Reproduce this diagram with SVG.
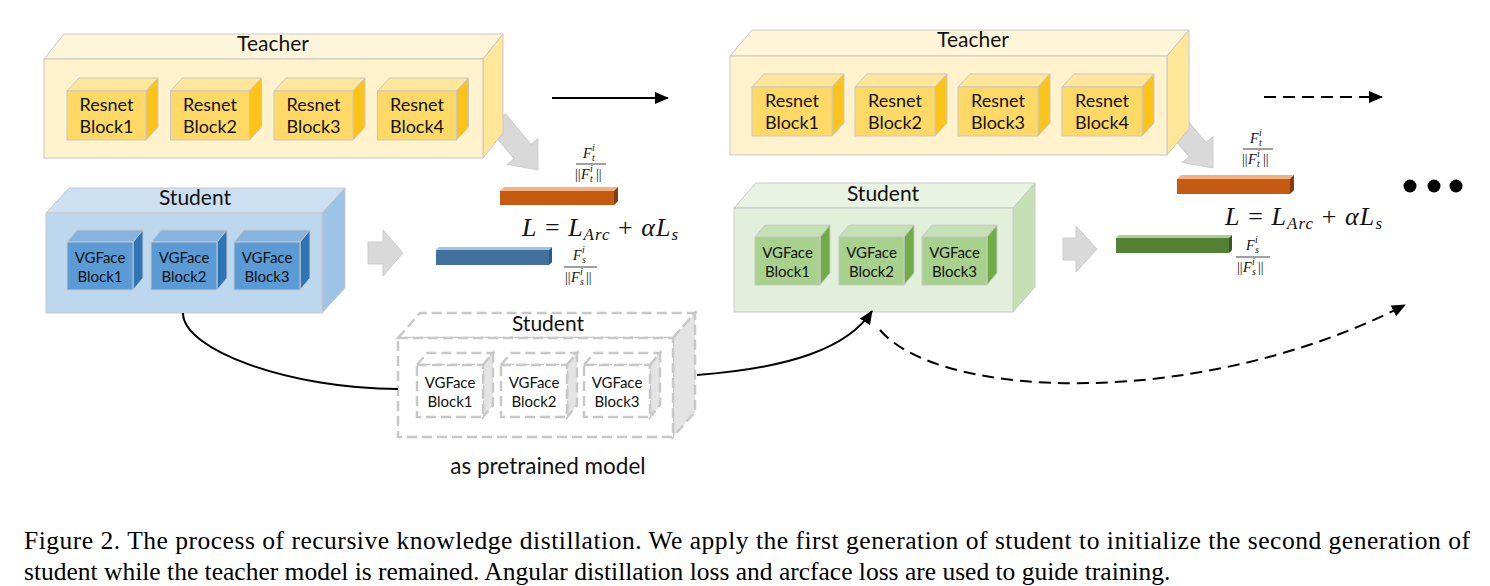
<svg xmlns="http://www.w3.org/2000/svg" width="1490" height="586" viewBox="0 0 1490 586">
<style>
.lbl{font-family:Lato,"Open Sans","Liberation Sans",sans-serif;fill:#111;text-anchor:middle}
.big{font-size:21px}
.rb{font-size:18px}
.vb{font-size:15px}
.b{stroke:#c8c8c8;stroke-width:1}
.tf{fill:#fff2cc}.tt{fill:#fff6da}.ts{fill:#ffe699}
.rf{fill:#ffd966}.rt{fill:#ffe699}.rs{fill:#fcc419}
.sf{fill:#bdd7ee}.st{fill:#cde0f2}.ss{fill:#9dc3e6}
.vf{fill:#5b9bd5}.vt{fill:#86b3e0}.vs{fill:#2e75b6}
.gf{fill:#e2efda}.gt{fill:#e9f3e3}.gs{fill:#c5e0b4}
.hf{fill:#a9d18e}.ht{fill:#c5e0b4}.hs{fill:#70ad47}
.d{fill:#fff;stroke:#c8c8c8;stroke-width:2.5;stroke-dasharray:10 5}
.ds{fill:#e4e4e4;stroke:#c8c8c8;stroke-width:2.5;stroke-dasharray:10 5}
.ga{fill:#d9d9d9;stroke:#cdcdcd;stroke-width:1}
.m{font-family:"Liberation Serif","DejaVu Serif",serif;fill:#111}
.i{font-style:italic}
.c{fill:none;stroke:#000;stroke-width:2}
.dash{stroke-dasharray:12 7}
.cap{font-family:"Liberation Serif","Times New Roman",serif;font-size:25.5px;fill:#000}
</style>
<defs>
<marker id="ah" markerUnits="userSpaceOnUse" markerWidth="14" markerHeight="12" refX="13" refY="6" orient="auto">
<path d="M0,0 L14,6 L0,12 Z" fill="#000"/>
</marker>
</defs>

<!-- gray block arrows -->
<g id="arrow-t1">
<polygon class="ga" transform="translate(538,170) rotate(50)" points="0,0 -24,-20 -24,-11 -64,-11 -64,11 -24,11 -24,20"/>
</g>
<g id="arrow-t2">
<polygon class="ga" transform="translate(1213,168) rotate(50)" points="0,0 -24,-20 -24,-11 -64,-11 -64,11 -24,11 -24,20"/>
</g>
<g id="arrow-s1">
<polygon class="ga" points="368,242 383,242 383,230 403,253 383,276 383,264 368,264"/>
</g>
<g id="arrow-s2">
<polygon class="ga" points="1063,238 1076,238 1076,226 1097,249 1076,272 1076,260 1063,260"/>
</g>

<!-- Teacher 1 -->
<g id="teacher1">
<polygon class="b tt" points="44,59 64,34 503,34 483,59"/>
<polygon class="b ts" points="483,59 503,34 503,133 483,158"/>
<rect class="b tf" x="44" y="59" width="439" height="99"/>
<text class="lbl big" x="273" y="51">Teacher</text>
<g id="t1b1">
<polygon class="b rt" points="67,91 79,78 158,78 146,91"/><polygon class="b rs" points="146,91 158,78 158,127 146,140"/><rect class="b rf" x="67" y="91" width="79" height="49"/>
<text class="lbl rb" x="106.5" y="111">Resnet</text><text class="lbl rb" x="106.5" y="133">Block1</text>
</g>
<g id="t1b2">
<polygon class="b rt" points="170.5,91 182.5,78 261.5,78 249.5,91"/><polygon class="b rs" points="249.5,91 261.5,78 261.5,127 249.5,140"/><rect class="b rf" x="170.5" y="91" width="79" height="49"/>
<text class="lbl rb" x="210" y="111">Resnet</text><text class="lbl rb" x="210" y="133">Block2</text>
</g>
<g id="t1b3">
<polygon class="b rt" points="274,91 286,78 365,78 353,91"/><polygon class="b rs" points="353,91 365,78 365,127 353,140"/><rect class="b rf" x="274" y="91" width="79" height="49"/>
<text class="lbl rb" x="313.5" y="111">Resnet</text><text class="lbl rb" x="313.5" y="133">Block3</text>
</g>
<g id="t1b4">
<polygon class="b rt" points="377.5,91 389.5,78 468.5,78 456.5,91"/><polygon class="b rs" points="456.5,91 468.5,78 468.5,127 456.5,140"/><rect class="b rf" x="377.5" y="91" width="79" height="49"/>
<text class="lbl rb" x="417" y="111">Resnet</text><text class="lbl rb" x="417" y="133">Block4</text>
</g>
</g>

<!-- Teacher 2 -->
<g id="teacher2">
<polygon class="b tt" points="730,56 752,30 1189,30 1167,56"/>
<polygon class="b ts" points="1167,56 1189,30 1189,129 1167,155"/>
<rect class="b tf" x="730" y="56" width="437" height="99"/>
<text class="lbl big" x="973" y="47">Teacher</text>
<g id="t2b1">
<polygon class="b rt" points="752,87 764,74 844,74 832,87"/><polygon class="b rs" points="832,87 844,74 844,123 832,136"/><rect class="b rf" x="752" y="87" width="80" height="49"/>
<text class="lbl rb" x="792" y="107">Resnet</text><text class="lbl rb" x="792" y="129">Block1</text>
</g>
<g id="t2b2">
<polygon class="b rt" points="855,87 867,74 947,74 935,87"/><polygon class="b rs" points="935,87 947,74 947,123 935,136"/><rect class="b rf" x="855" y="87" width="80" height="49"/>
<text class="lbl rb" x="895" y="107">Resnet</text><text class="lbl rb" x="895" y="129">Block2</text>
</g>
<g id="t2b3">
<polygon class="b rt" points="958,87 970,74 1050,74 1038,87"/><polygon class="b rs" points="1038,87 1050,74 1050,123 1038,136"/><rect class="b rf" x="958" y="87" width="80" height="49"/>
<text class="lbl rb" x="998" y="107">Resnet</text><text class="lbl rb" x="998" y="129">Block3</text>
</g>
<g id="t2b4">
<polygon class="b rt" points="1062,87 1074,74 1154,74 1142,87"/><polygon class="b rs" points="1142,87 1154,74 1154,123 1142,136"/><rect class="b rf" x="1062" y="87" width="80" height="49"/>
<text class="lbl rb" x="1102" y="107">Resnet</text><text class="lbl rb" x="1102" y="129">Block4</text>
</g>
</g>

<!-- Student 1 (blue) -->
<g id="student1">
<polygon class="b st" points="46,213 69,188 345,188 322,213"/>
<polygon class="b ss" points="322,213 345,188 345,288 322,313"/>
<rect class="b sf" x="46" y="213" width="276" height="100"/>
<text class="lbl big" x="195" y="205">Student</text>
<g id="s1b1">
<polygon class="b vt" points="67,242 77,230 143,230 133,242"/><polygon class="b vs" points="133,242 143,230 143,278 133,290"/><rect class="b vf" x="67" y="242" width="66" height="48"/>
<text class="lbl vb" x="100" y="263">VGFace</text><text class="lbl vb" x="100" y="282">Block1</text>
</g>
<g id="s1b2">
<polygon class="b vt" points="151,242 161,230 227,230 217,242"/><polygon class="b vs" points="217,242 227,230 227,278 217,290"/><rect class="b vf" x="151" y="242" width="66" height="48"/>
<text class="lbl vb" x="184" y="263">VGFace</text><text class="lbl vb" x="184" y="282">Block2</text>
</g>
<g id="s1b3">
<polygon class="b vt" points="234,242 244,230 310,230 300,242"/><polygon class="b vs" points="300,242 310,230 310,278 300,290"/><rect class="b vf" x="234" y="242" width="66" height="48"/>
<text class="lbl vb" x="267" y="263">VGFace</text><text class="lbl vb" x="267" y="282">Block3</text>
</g>
</g>

<!-- Student 2 (green) -->
<g id="student2">
<polygon class="b gt" points="734,208 756,183 1035,183 1013,208"/>
<polygon class="b gs" points="1013,208 1035,183 1035,287 1013,312"/>
<rect class="b gf" x="734" y="208" width="279" height="104"/>
<text class="lbl big" x="883" y="201">Student</text>
<g id="s2b1">
<polygon class="b ht" points="755,237 765,225 830,225 820,237"/><polygon class="b hs" points="820,237 830,225 830,273 820,285"/><rect class="b hf" x="755" y="237" width="65" height="48"/>
<text class="lbl vb" x="787.5" y="258">VGFace</text><text class="lbl vb" x="787.5" y="277">Block1</text>
</g>
<g id="s2b2">
<polygon class="b ht" points="839,237 849,225 914,225 904,237"/><polygon class="b hs" points="904,237 914,225 914,273 904,285"/><rect class="b hf" x="839" y="237" width="65" height="48"/>
<text class="lbl vb" x="871.5" y="258">VGFace</text><text class="lbl vb" x="871.5" y="277">Block2</text>
</g>
<g id="s2b3">
<polygon class="b ht" points="922,237 932,225 997,225 987,237"/><polygon class="b hs" points="987,237 997,225 997,273 987,285"/><rect class="b hf" x="922" y="237" width="65" height="48"/>
<text class="lbl vb" x="954.5" y="258">VGFace</text><text class="lbl vb" x="954.5" y="277">Block3</text>
</g>
</g>

<!-- Pretrained student (dashed) -->
<g id="student-pretrained">
<polygon class="d" points="398,338 420,313 695,313 673,338"/>
<polygon class="ds" points="673,338 695,313 695,412 673,437"/>
<rect class="d" x="398" y="338" width="275" height="99"/>
<text class="lbl big" x="548" y="331">Student</text>
<g id="pb1">
<polygon class="d" points="417,365 427,353 493,353 483,365"/><polygon class="ds" points="483,365 493,353 493,405 483,417"/><rect class="d" x="417" y="365" width="66" height="52"/>
<text class="lbl vb" x="450" y="388">VGFace</text><text class="lbl vb" x="450" y="407">Block1</text>
</g>
<g id="pb2">
<polygon class="d" points="501,365 511,353 577,353 567,365"/><polygon class="ds" points="567,365 577,353 577,405 567,417"/><rect class="d" x="501" y="365" width="66" height="52"/>
<text class="lbl vb" x="534" y="388">VGFace</text><text class="lbl vb" x="534" y="407">Block2</text>
</g>
<g id="pb3">
<polygon class="d" points="584,365 594,353 660,353 650,365"/><polygon class="ds" points="650,365 660,353 660,405 650,417"/><rect class="d" x="584" y="365" width="66" height="52"/>
<text class="lbl vb" x="617" y="388">VGFace</text><text class="lbl vb" x="617" y="407">Block3</text>
</g>
<text class="lbl" style="font-size:22.5px" x="548" y="474">as pretrained model</text>
</g>

<!-- feature bars -->
<g id="bar-t1">
<polygon fill="#f4b183" points="500,191 504,187 618,187 614,191"/>
<polygon fill="#843c0c" points="614,191 618,187 618,201 614,205"/>
<rect x="500" y="191" width="114" height="14" fill="#c55a11"/>
</g>
<g id="bar-s1">
<polygon fill="#9dc3e6" points="436,250 439,247 552,247 549,250"/>
<polygon fill="#2f5597" points="549,250 552,247 552,262 549,265"/>
<rect x="436" y="250" width="113" height="15" fill="#41719c"/>
</g>
<g id="bar-t2">
<polygon fill="#f4b183" points="1177,179 1181,175 1294,175 1290,179"/>
<polygon fill="#843c0c" points="1290,179 1294,175 1294,190 1290,194"/>
<rect x="1177" y="179" width="113" height="15" fill="#c55a11"/>
</g>
<g id="bar-s2">
<polygon fill="#a9d18e" points="1116,238 1119,235 1232,235 1229,238"/>
<polygon fill="#385723" points="1229,238 1232,235 1232,250 1229,253"/>
<rect x="1116" y="238" width="113" height="15" fill="#548235"/>
</g>

<!-- math labels -->
<g id="math1">
<text class="m" font-size="14"><tspan class="i" x="583" y="158">F</tspan><tspan font-size="10" class="i" x="592" y="151">i</tspan><tspan font-size="10" class="i" x="592" y="161">t</tspan></text>
<line x1="576" y1="164" x2="606" y2="164" stroke="#111" stroke-width="0.8"/>
<text class="m" font-size="14"><tspan x="575" y="179">||</tspan><tspan class="i" x="581" y="179">F</tspan><tspan font-size="10" class="i" x="590" y="172">i</tspan><tspan font-size="10" class="i" x="590" y="182">t</tspan><tspan x="596" y="179">||</tspan></text>
<text class="m" font-size="26" x="522" y="236" textLength="156" lengthAdjust="spacing"><tspan class="i">L</tspan> = <tspan class="i">L</tspan><tspan class="i" font-size="17" dy="4">Arc</tspan><tspan dy="-4"> + </tspan><tspan class="i">αL</tspan><tspan class="i" font-size="17" dy="4">s</tspan></text>
<text class="m" font-size="14"><tspan class="i" x="573" y="260">F</tspan><tspan font-size="10" class="i" x="582" y="253">i</tspan><tspan font-size="10" class="i" x="582" y="263">s</tspan></text>
<line x1="564" y1="267" x2="597" y2="267" stroke="#111" stroke-width="0.8"/>
<text class="m" font-size="14"><tspan x="565" y="282">||</tspan><tspan class="i" x="571" y="282">F</tspan><tspan font-size="10" class="i" x="580" y="275">i</tspan><tspan font-size="10" class="i" x="580" y="285">s</tspan><tspan x="586" y="282">||</tspan></text>
</g>
<g id="math2">
<text class="m" font-size="14"><tspan class="i" x="1250" y="143">F</tspan><tspan font-size="10" class="i" x="1259" y="136">i</tspan><tspan font-size="10" class="i" x="1259" y="146">t</tspan></text>
<line x1="1243" y1="149" x2="1273" y2="149" stroke="#111" stroke-width="0.8"/>
<text class="m" font-size="14"><tspan x="1242" y="164">||</tspan><tspan class="i" x="1248" y="164">F</tspan><tspan font-size="10" class="i" x="1257" y="157">i</tspan><tspan font-size="10" class="i" x="1257" y="167">t</tspan><tspan x="1263" y="164">||</tspan></text>
<text class="m" font-size="26" x="1225" y="225" textLength="157" lengthAdjust="spacing"><tspan class="i">L</tspan> = <tspan class="i">L</tspan><tspan class="i" font-size="17" dy="4">Arc</tspan><tspan dy="-4"> + </tspan><tspan class="i">αL</tspan><tspan class="i" font-size="17" dy="4">s</tspan></text>
<text class="m" font-size="14"><tspan class="i" x="1246" y="250">F</tspan><tspan font-size="10" class="i" x="1255" y="243">i</tspan><tspan font-size="10" class="i" x="1255" y="253">s</tspan></text>
<line x1="1236" y1="257" x2="1270" y2="257" stroke="#111" stroke-width="0.8"/>
<text class="m" font-size="14"><tspan x="1237" y="272">||</tspan><tspan class="i" x="1243" y="272">F</tspan><tspan font-size="10" class="i" x="1252" y="265">i</tspan><tspan font-size="10" class="i" x="1252" y="275">s</tspan><tspan x="1258" y="272">||</tspan></text>
</g>

<g id="ellipsis">
<circle cx="1410" cy="186" r="6.5" fill="#000"/>
<circle cx="1434" cy="186" r="6.5" fill="#000"/>
<circle cx="1456" cy="186" r="6.5" fill="#000"/>
</g>

<!-- connectors -->
<g id="connectors">
<line class="c" x1="552" y1="98" x2="668" y2="98" marker-end="url(#ah)"/>
<line class="c dash" x1="1264" y1="97" x2="1382" y2="97" marker-end="url(#ah)"/>
<path class="c" d="M183,313 C183,350 290,389 398,389"/>
<path class="c" d="M697,375 C790,368 848,348 872,311" marker-end="url(#ah)"/>
<path class="c dash" d="M880,330 C940,400 1200,410 1405,305" marker-end="url(#ah)"/>
</g>

<g id="caption">
<text class="cap" x="24" y="549" textLength="1446" lengthAdjust="spacing">Figure 2. The process of recursive knowledge distillation.  We apply the first generation of student to initialize the second generation of</text>
<text class="cap" x="24" y="580">student while the teacher model is remained. Angular distillation loss and arcface loss are used to guide training.</text>
</g>
</svg>
